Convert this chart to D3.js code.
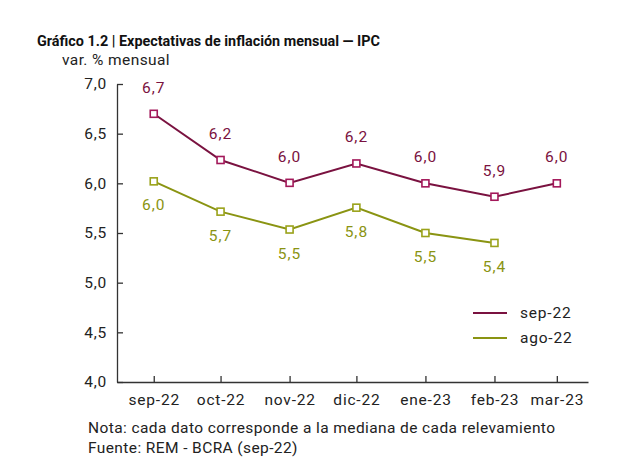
<!DOCTYPE html>
<html><head><meta charset="utf-8">
<script src="https://cdn.jsdelivr.net/npm/d3@7"></script>
<style>body{margin:0;background:#fff}svg{display:block}text{font-family:Roboto,"Noto Sans",sans-serif}</style>
</head><body>
<svg id="c" width="640" height="476"></svg>
<script>
const dates = ["2022-09-01","2022-10-01","2022-11-01","2022-12-01","2023-01-01","2023-02-01","2023-03-01"];
const tickLabels = ["sep-22","oct-22","nov-22","dic-22","ene-23","feb-23","mar-23"];
const sep22 = [6.70, 6.235, 6.005, 6.20, 6.00, 5.865, 6.00];
const ago22 = [6.02, 5.715, 5.535, 5.755, 5.50, 5.40];
const labelsSep = ["6,7","6,2","6,0","6,2","6,0","5,9","6,0"];
const labelsAgo = ["6,0","5,7","5,5","5,8","5,5","5,4"];
const yTicks = [4.0,4.5,5.0,5.5,6.0,6.5,7.0];

const svg = d3.select("#c");
const dt = dates.map(d => new Date(d + "T00:00:00Z"));
const x = d3.scaleUtc().domain([new Date("2022-08-15T12:00:00Z"), new Date("2023-03-15T00:00:00Z")]).range([117, 588]);
const y = d3.scaleLinear().domain([4, 7]).range([382, 84]);

const axisColor = "#333";
const FS = 15.5;
// title
svg.append("text").attr("x", 37).attr("y", 46).attr("font-size", 14).attr("font-weight", 700)
  .attr("textLength", 343).attr("lengthAdjust", "spacingAndGlyphs").attr("fill", "#111")
  .text("Gráfico 1.2 | Expectativas de inflación mensual — IPC");
svg.append("text").attr("x", 62).attr("y", 65).attr("font-size", FS).attr("letter-spacing", 0.4)
  .attr("fill", "#222").text("var. % mensual");

// y axis
const gy = svg.append("g").attr("transform", "translate(117,0)")
  .call(d3.axisLeft(y).tickValues(yTicks).tickSizeInner(-6).tickSizeOuter(0).tickPadding(10)
    .tickFormat(d => d3.format(".1f")(d).replace(".", ",")));
gy.selectAll("text").attr("font-size", FS).attr("letter-spacing", 0.8).attr("fill", "#222");
gy.selectAll("line,path").attr("stroke", axisColor).attr("stroke-width", 1.3);

// x axis
const gx = svg.append("g").attr("transform", "translate(0,382)")
  .call(d3.axisBottom(x).tickValues(dt).tickSizeInner(-6).tickSizeOuter(0).tickPadding(12)
    .tickFormat((d, i) => tickLabels[i]));
gx.selectAll("text").attr("font-size", FS).attr("letter-spacing", 0.8).attr("fill", "#222");
gx.selectAll("line,path").attr("stroke", axisColor).attr("stroke-width", 1.3);

const series = [
  {vals: sep22, labels: labelsSep, color: "#7a1240", mk: "#a3185a", off: -21, name: "sep-22"},
  {vals: ago22, labels: labelsAgo, color: "#8a9412", mk: "#9aa21a", off: 29, name: "ago-22"}
];
const line = d3.line().x(d => x(d[0])).y(d => y(d[1]));
series.forEach(s => {
  const pts = s.vals.map((v, i) => [dt[i], v]);
  svg.append("path").attr("d", line(pts)).attr("fill", "none").attr("stroke", s.color).attr("stroke-width", 2);
  svg.selectAll(null).data(pts).enter().append("rect")
    .attr("x", d => x(d[0]) - 3.5).attr("y", d => y(d[1]) - 3.5).attr("width", 7).attr("height", 7)
    .attr("fill", "#fff").attr("stroke", s.mk).attr("stroke-width", 1.6);
  svg.selectAll(null).data(pts).enter().append("text")
    .attr("x", d => x(d[0])).attr("y", d => y(d[1]) + s.off)
    .attr("text-anchor", "middle").attr("font-size", FS).attr("letter-spacing", 1).attr("fill", s.color)
    .text((d, i) => s.labels[i]);
});

// legend
series.forEach((s, i) => {
  const yy = 313 + i * 25;
  svg.append("line").attr("x1", 473).attr("x2", 507).attr("y1", yy).attr("y2", yy)
    .attr("stroke", s.color).attr("stroke-width", 2);
  svg.append("text").attr("x", 520).attr("y", yy + 5).attr("font-size", FS).attr("letter-spacing", 0.8)
    .attr("fill", "#222").text(s.name);
});

// notes
svg.append("text").attr("x", 88).attr("y", 433).attr("font-size", FS).attr("letter-spacing", 0.4).attr("fill", "#222")
  .text("Nota: cada dato corresponde a la mediana de cada relevamiento");
svg.append("text").attr("x", 88).attr("y", 453).attr("font-size", FS).attr("letter-spacing", 0.4).attr("fill", "#222")
  .text("Fuente: REM - BCRA (sep-22)");
</script>
</body></html>
